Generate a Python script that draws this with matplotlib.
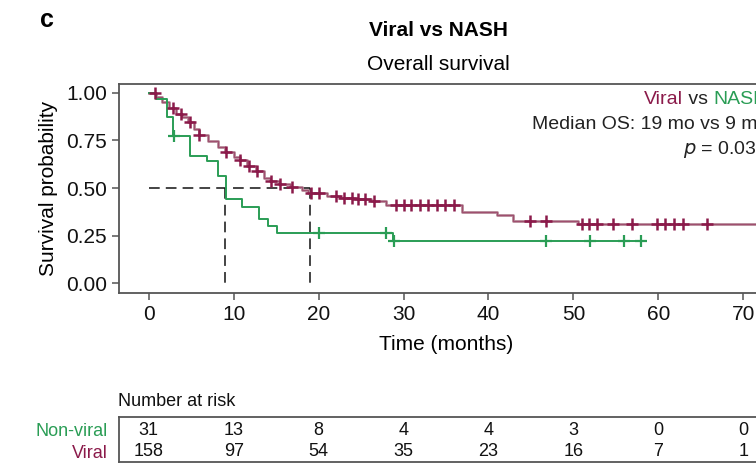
import numpy as np
import matplotlib.pyplot as plt

plt.rcParams['font.family'] = ['Liberation Sans', 'DejaVu Sans']

# Kaplan-Meier steps (months, survival)
viral_t = [0, 0.9, 1.6, 2.4, 3.2, 3.9, 4.6, 5.3, 5.9, 7.0, 8.2, 9.0, 10.0, 10.8,
           11.6, 12.6, 13.6, 14.3, 15.3, 16.6, 18.0, 18.8, 21.0, 22.5, 24.3,
           26.2, 27.9, 36.9, 41.0, 42.9, 50.6, 74.0]
viral_s = [1.0, 0.975, 0.95, 0.92, 0.89, 0.87, 0.845, 0.81, 0.78, 0.745, 0.715,
           0.69, 0.665, 0.645, 0.615, 0.59, 0.555, 0.535, 0.52, 0.505, 0.49,
           0.475, 0.46, 0.45, 0.44, 0.43, 0.41, 0.375, 0.36, 0.326, 0.309, 0.309]
viral_cens = [0.7, 2.8, 3.8, 4.9, 5.9, 9.1, 10.8, 11.8, 12.8, 14.4, 15.5, 16.9,
              19.1, 20.0, 22.1, 23.0, 23.9, 24.6, 25.5, 26.5, 29.1, 30.0, 30.9,
              31.9, 32.9, 33.9, 34.9, 35.9, 44.9, 46.8, 51.0, 51.8, 52.8, 54.7,
              56.9, 59.8, 60.8, 61.8, 62.9, 65.7]

nash_t = [0, 0.8, 2.1, 2.9, 4.9, 6.9, 8.1, 9.06, 11.0, 13.0, 14.0, 15.1, 28.8, 58.0]
nash_s = [1.0, 0.968, 0.871, 0.774, 0.667, 0.64, 0.565, 0.44, 0.40, 0.339,
          0.30, 0.264, 0.22, 0.22]
nash_cens = [3.0, 20.0, 27.9, 28.9, 46.8, 51.9, 55.9, 57.9]

median_os = [19, 9]  # viral, NASH

risk_times = [0, 10, 20, 30, 40, 50, 60, 70]
risk_nonviral = [31, 13, 8, 4, 4, 3, 0, 0]
risk_viral = [158, 97, 54, 35, 23, 16, 7, 1]

viral_col = '#8b1a4a'
viral_line = '#b48595'
nash_col = '#2a9d55'


def step_value(times, surv, t):
    idx = np.searchsorted(times, t, side='right') - 1
    return np.array(surv)[idx]


fig = plt.figure(figsize=(7.56, 4.63), dpi=100)
W, H = 756, 463

ax = fig.add_axes([119 / W, 1 - 293 / H, (773 - 119) / W, (293 - 84) / H])
ax.step(viral_t, viral_s, where='post', color=viral_line, lw=2.0, zorder=3)
ax.step(viral_t, viral_s, where='post', color=viral_col, lw=0.6, alpha=0.6, zorder=3)
ax.step(nash_t, nash_s, where='post', color=nash_col, lw=1.4, zorder=4)
ax.plot(viral_cens, step_value(viral_t, viral_s, viral_cens), ls='none', marker='+',
        ms=9, mew=1.8, color=viral_col, zorder=5)
ax.plot(nash_cens, step_value(nash_t, nash_s, nash_cens), ls='none', marker='+',
        ms=9, mew=1.6, color=nash_col, zorder=5)

# median lines
dash = (0, (7, 4))
ax.plot([0, max(median_os)], [0.5, 0.5], color='#111111', lw=1.1, ls=dash, zorder=2)
for m in median_os:
    ax.plot([m, m], [0.5, 0], color='#111111', lw=1.1, ls=dash, zorder=2)

ax.set_xlim(-3.5, 73.5)
ax.set_ylim(-0.05, 1.045)
ax.set_xticks(risk_times)
ax.set_yticks([0, 0.25, 0.5, 0.75, 1.0])
ax.set_yticklabels(['0.00', '0.25', '0.50', '0.75', '1.00'])
ax.tick_params(labelsize=15, colors='#555555', labelcolor='#111111', length=5, width=1.1)
for sp in ax.spines.values():
    sp.set_color('#555555')
    sp.set_linewidth(1.3)
ax.set_xlabel('Time (months)', fontsize=15, labelpad=8)
ax.set_ylabel('Survival probability', fontsize=15, labelpad=6)

fig.text(438 / W, 1 - 30 / H, 'Viral vs NASH', ha='center', va='center',
         fontsize=15, fontweight='bold')
fig.text(438 / W, 1 - 65 / H, 'Overall survival', ha='center', va='center', fontsize=15)
fig.text(40 / W, 1 - 20 / H, 'c', ha='left', va='center', fontsize=18, fontweight='bold')

# annotation block, pieces chained right to left
renderer = fig.canvas.get_renderer()
x = 768 / W
for word, col in [('NASH', nash_col), (' vs ', '#222222'), ('Viral', viral_col)]:
    t = fig.text(x, 1 - 100 / H, word, ha='right', va='center', fontsize=14, color=col)
    x -= t.get_window_extent(renderer).width / W
fig.text(768 / W, 1 - 125 / H, 'Median OS: %d mo vs %d mo' % (median_os[0], median_os[1]),
         ha='right', va='center', fontsize=14, color='#222222')
fig.text(768 / W, 1 - 150 / H, r'$p$ = 0.033', ha='right', va='center', fontsize=14, color='#222222')

# number at risk table
tab = fig.add_axes([119 / W, 1 - 462 / H, (773 - 119) / W, (462 - 417) / H])
tab.set_xlim(-3.5, 73.5)
tab.set_ylim(0, 2)
tab.set_xticks([])
tab.set_yticks([])
for sp in tab.spines.values():
    sp.set_color('#555555')
    sp.set_linewidth(1.3)
for t, a, b in zip(risk_times, risk_nonviral, risk_viral):
    tab.text(t, 1.4, str(a), ha='center', va='center', fontsize=13, color='#111111')
    tab.text(t, 0.45, str(b), ha='center', va='center', fontsize=13, color='#111111')
fig.text(108 / W, 1 - 431 / H, 'Non-viral', ha='right', va='center', fontsize=13, color=nash_col)
fig.text(108 / W, 1 - 453 / H, 'Viral', ha='right', va='center', fontsize=13, color=viral_col)
fig.text(118 / W, 1 - 401 / H, 'Number at risk', ha='left', va='center', fontsize=13,
         color='#111111')

fig.savefig('out.png', dpi=100)
